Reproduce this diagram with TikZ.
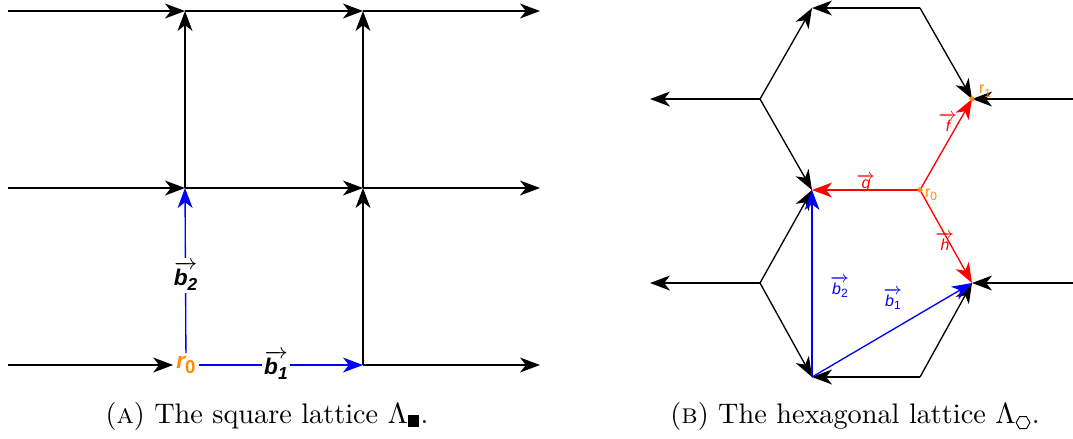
\documentclass[tikz,border=0pt]{standalone}
\usepackage{fontspec}
\usepackage{amsmath}
\usetikzlibrary{arrows.meta}
\newfontfamily\labfont{Liberation Sans}
\definecolor{rorange}{RGB}{255,140,0}
\newcommand{\sqvec}[2]{$\overrightarrow{\hbox{\labfont\bfseries\itshape #1\raisebox{-0.4ex}{\fontsize{6.5}{7}\selectfont #2}}}$}
\newcommand{\hxvec}[2]{$\overrightarrow{\hbox{\labfont\itshape #1\raisebox{-0.4ex}{\fontsize{4.5}{5}\selectfont\upshape #2}}}$}
\newcommand{\sqsym}{\mbox{\rule{4.2pt}{4.8pt}}}
\newcommand{\hexsym}{\tikz[baseline={(0,-1.8pt)},line width=0.35pt]\draw (0:2.6pt) -- (60:2.6pt) -- (120:2.6pt) -- (180:2.6pt) -- (240:2.6pt) -- (300:2.6pt) -- cycle;}
\begin{document}
\begin{tikzpicture}[x=0.375pt,y=-0.375pt,
  arrtip/.style={-{Stealth[length=7.5pt,width=5.6pt,inset=2.2pt]}},
  lnk/.style={line width=0.5pt,draw=black,arrtip},
  bvec/.style={line width=0.5pt,draw=blue,arrtip},
  rvec/.style={line width=0.5pt,draw=red,arrtip},
  sqlab/.style={font=\fontsize{8.5}{9}\selectfont,inner sep=1pt,fill=white},
  hxlab/.style={font=\fontsize{6}{7}\selectfont,inner sep=0.5pt},
  captext/.style={font=\fontsize{10.6}{12}\selectfont,inner sep=0pt},
  odot/.style={circle,fill=rorange,inner sep=0pt,minimum size=2pt}]
\useasboundingbox (0,0) rectangle (1073,438);
% ---------- square lattice ----------
\foreach \r/\y in {0/365,1/188,2/11}{
  \coordinate (L\r) at (8,\y);
  \coordinate (A\r) at (185,\y);
  \coordinate (B\r) at (363,\y);
  \coordinate (R\r) at (540,\y);
}
\node[text=rorange,font=\fontsize{8.5}{9}\selectfont\labfont\bfseries\itshape,inner sep=1pt] (r0) at (186,365) {r\raisebox{-0.4ex}{\fontsize{7}{8}\selectfont\upshape 0}};
\draw[lnk] (L0) -- (r0);
\draw[lnk] (B0) -- (R0);
\foreach \r in {1,2}{
  \draw[lnk] (L\r) -- (A\r);
  \draw[lnk] (A\r) -- (B\r);
  \draw[lnk] (B\r) -- (R\r);
}
\draw[lnk] (A1) -- (A2);
\draw[lnk] (B0) -- (B1);
\draw[lnk] (B1) -- (B2);
\draw[bvec] (r0) -- node[sqlab,pos=0.47] (lb1) {\sqvec{b}{1}} (B0);
\draw[bvec] (r0) -- node[sqlab,pos=0.47] (lb2) {\sqvec{b}{2}} (A1);
% ---------- hexagonal lattice ----------
\coordinate (P1) at (812,8);
\coordinate (P2) at (920,8);
\coordinate (P3) at (760,99);
\coordinate (P4) at (972,99);
\coordinate (P5) at (812,190);
\coordinate (P6) at (920,190);
\coordinate (P7) at (760,283);
\coordinate (P8) at (972,283);
\coordinate (P9) at (812,377);
\coordinate (P10) at (920,377);
\coordinate (W1) at (650,99);
\coordinate (E1) at (1073,99);
\coordinate (W2) at (650,283);
\coordinate (E2) at (1073,283);
\draw[lnk] (P3) -- (W1);
\draw[lnk] (E1) -- (P4);
\draw[lnk] (P3) -- (P1);
\draw[lnk] (P2) -- (P1);
\draw[lnk] (P2) -- (P4);
\draw[lnk] (P3) -- (P5);
\draw[lnk] (P7) -- (P5);
\draw[lnk] (P7) -- (W2);
\draw[lnk] (E2) -- (P8);
\draw[lnk] (P7) -- (P9);
\draw[lnk] (P10) -- (P9);
\draw[lnk] (P10) -- (P8);
\draw[bvec] (P9) -- (P5);
\draw[bvec] (P9) -- (P8);
\draw[rvec] (P6) -- (P5);
\draw[rvec] (P6) -- (P4);
\draw[rvec] (P6) -- (P8);
\node[odot] (d0) at (P6) {};
\node[odot] (d1) at (P4) {};
\node[hxlab,text=rorange] (lr0) at (931,195) {\labfont r\raisebox{-0.4ex}{\fontsize{4.5}{5}\selectfont 0}};
\node[hxlab,text=rorange] (lr1) at (985,91) {\labfont r\raisebox{-0.4ex}{\fontsize{4.5}{5}\selectfont 1}};
\node[hxlab,text=blue] (hb2) at (840,287) {\hxvec{b}{2}};
\node[hxlab,text=blue] (hb1) at (893,299) {\hxvec{b}{1}};
\node[hxlab,text=red] (hf) at (948,124) {\hxvec{f}{}};
\node[hxlab,text=red] (hg) at (866,183) {\hxvec{g}{}};
\node[hxlab,text=red] (hh) at (945,243) {\hxvec{h}{}};
% ---------- captions ----------
\node[captext] (capA) at (267,416) {(\textsc{a}) The square lattice $\Lambda_{\sqsym}$.};
\node[captext] (capB) at (855,416) {(\textsc{b}) The hexagonal lattice $\Lambda_{\hexsym}$.};
\end{tikzpicture}
\end{document}
